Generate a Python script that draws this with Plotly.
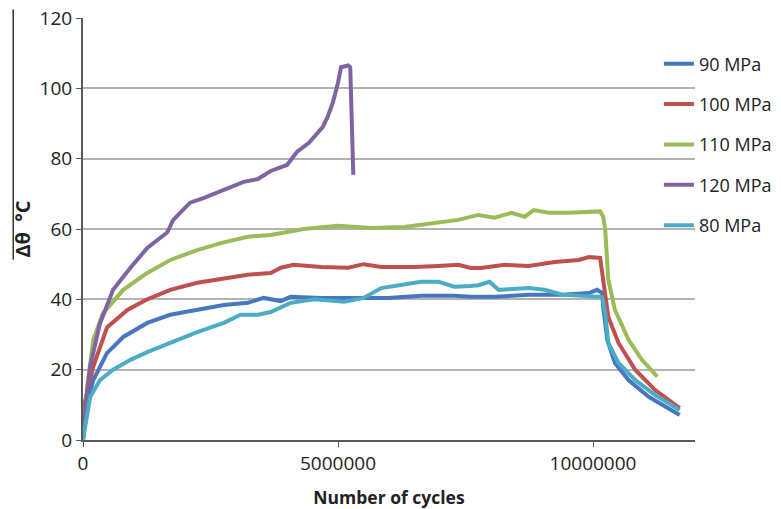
import plotly.graph_objects as go

# Number of cycles (millions) and temperature rise values
x90 = [0, 0.04, 0.2, 0.47, 0.79, 1.26, 1.71, 2.24, 2.76, 3.23, 3.54, 3.88, 4.07, 4.67, 5.3, 5.98, 6.63, 7.28, 7.6, 8.07, 8.74, 9.4, 9.92, 10.08, 10.18, 10.2, 10.28, 10.43, 10.7, 11.1, 11.7]
y90 = [0, 7.7, 17, 24.7, 29.3, 33.3, 35.6, 37, 38.4, 39, 40.4, 39.5, 40.7, 40.4, 40.4, 40.4, 41, 41, 40.7, 40.7, 41.3, 41.3, 41.8, 42.7, 41.8, 37.8, 28.4, 21.9, 17, 12.2, 7.1]

x100 = [0, 0.08, 0.2, 0.47, 0.87, 1.26, 1.71, 2.24, 2.76, 3.23, 3.68, 3.88, 4.13, 4.67, 5.2, 5.5, 5.85, 6.5, 6.97, 7.36, 7.6, 7.8, 8.27, 8.74, 9.25, 9.72, 9.92, 10.14, 10.2, 10.3, 10.5, 10.83, 11.22, 11.7]
y100 = [8.5, 13, 20.8, 32, 37, 40, 42.7, 44.7, 46, 47, 47.5, 49, 49.8, 49.2, 49, 50, 49.2, 49.2, 49.5, 49.8, 48.9, 48.9, 49.8, 49.5, 50.6, 51.2, 52, 51.8, 45.5, 35, 27.6, 19.9, 14.2, 9.1]

x110 = [0, 0.08, 0.2, 0.39, 0.79, 1.26, 1.71, 2.24, 2.7, 3.23, 3.68, 4.33, 5.0, 5.65, 6.3, 6.97, 7.36, 7.75, 8.07, 8.4, 8.66, 8.84, 9.13, 9.53, 9.98, 10.14, 10.2, 10.24, 10.3, 10.43, 10.7, 10.96, 11.26]
y110 = [0, 15, 28.4, 36, 42.7, 47.5, 51.2, 54, 56, 57.8, 58.3, 60, 60.9, 60.3, 60.6, 61.7, 62.6, 64, 63.2, 64.6, 63.5, 65.4, 64.6, 64.6, 65, 65, 63.5, 59.7, 45.5, 37, 28.4, 22.8, 18]

x120 = [0, 0.05, 0.14, 0.33, 0.59, 0.93, 1.26, 1.65, 1.77, 2.1, 2.36, 2.76, 3.15, 3.43, 3.68, 4.0, 4.2, 4.43, 4.6, 4.7, 4.8, 4.9, 5.0, 5.06, 5.2, 5.24, 5.3]
y120 = [0, 10, 20.8, 33, 42.7, 49, 54.6, 59, 62.6, 67.5, 68.8, 71, 73.4, 74.2, 76.5, 78.2, 82, 84.5, 87.5, 89, 92, 96, 101.6, 106, 106.5, 106, 75.4]

x80 = [0, 0.02, 0.14, 0.33, 0.59, 0.93, 1.26, 1.71, 2.24, 2.76, 3.09, 3.43, 3.68, 4.07, 4.53, 5.12, 5.5, 5.85, 6.3, 6.63, 6.97, 7.28, 7.6, 7.75, 7.97, 8.15, 8.74, 9.05, 9.4, 10.04, 10.18, 10.24, 10.3, 10.5, 10.83, 11.22, 11.7]
y80 = [0, 2, 12.2, 17, 20, 22.8, 25, 27.6, 30.7, 33.3, 35.6, 35.6, 36.4, 39, 40, 39.3, 40.4, 43.2, 44.4, 45, 45, 43.6, 43.8, 44, 45, 42.7, 43.2, 42.7, 41.3, 40.7, 40.7, 36, 27.6, 21.9, 17, 12.8, 8.5]

names = ["90 MPa", "100 MPa", "110 MPa", "120 MPa", "80 MPa"]
colors = ["#4677C0", "#C0504D", "#9BBB59", "#8064A2", "#4BACC6"]
series = [(x90, y90), (x100, y100), (x110, y110), (x120, y120), (x80, y80)]

FONT = "Open Sans"

fig = go.Figure()
for i, ((xs, ys), n, c) in enumerate(zip(series, names, colors)):
    fig.add_trace(go.Scatter(
        x=[v * 1e6 for v in xs], y=ys, mode="lines", name=n,
        line=dict(color=c, width=4), legendgroup=n,
    ))

fig.update_layout(
    width=781, height=509,
    margin=dict(l=83, r=86, t=18, b=69, autoexpand=False),
    paper_bgcolor="white", plot_bgcolor="white",
    font=dict(family=FONT, size=19, color="#222"),
    showlegend=True,
    legend=dict(x=0.941, y=0.935, xanchor="left", yanchor="top",
                bgcolor="rgba(0,0,0,0)", tracegroupgap=14,
                font=dict(family=FONT, size=18, color="#222")),
    xaxis=dict(range=[0, 12e6], dtick=5e6, tick0=0, tickformat="d",
               showgrid=False, zeroline=False, showline=True, automargin=False,
               linecolor="#595959", linewidth=2, ticks="outside",
               ticklen=5, tickcolor="#595959",
               title=dict(text="<b>Number of cycles</b>", font=dict(size=17.5), standoff=17)),
    yaxis=dict(range=[0, 120], dtick=20, showgrid=True, gridcolor="#b3b3b3",
               gridwidth=1.5, zeroline=False, showline=True, automargin=False,
               linecolor="#595959", linewidth=2, ticks="outside",
               ticklen=5, tickcolor="#595959",
               title=dict(text="<b>Δθ  °C</b>", font=dict(size=20), standoff=4)),
)

fig.add_shape(type="line", xref="paper", yref="paper",
              x0=-0.114, x1=-0.114, y0=1.02, y1=0.427,
              line=dict(color="#333", width=1.5))

fig.write_html("out.html", config={"displayModeBar": False},
               post_script="document.body.style.margin='0';document.body.style.overflow='hidden';")
